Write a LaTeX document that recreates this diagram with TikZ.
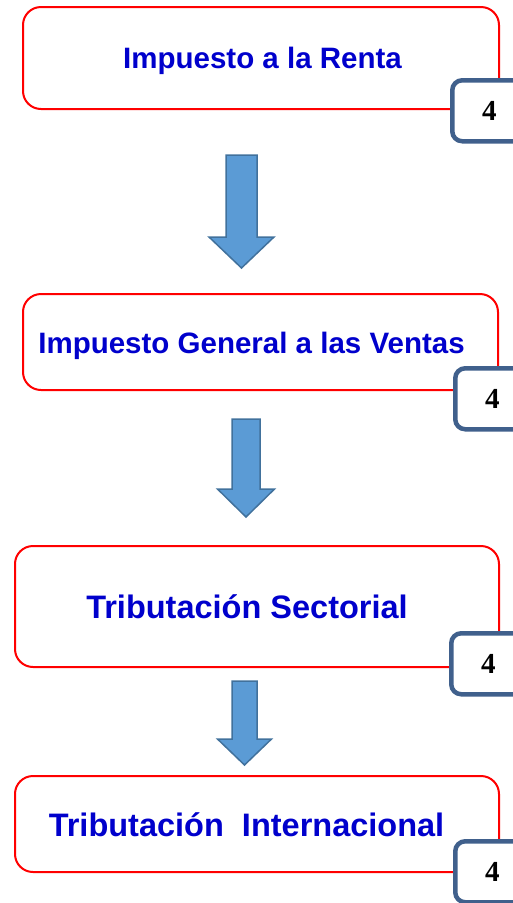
\documentclass[tikz,border=0pt]{standalone}
\usepackage{fontspec}
\newfontfamily\arial{Liberation Sans}
\newfontfamily\serifnum{Liberation Serif}
\usepackage{tikz}
\usetikzlibrary{positioning}
\definecolor{rojo}{RGB}{255,0,0}
\definecolor{azultexto}{RGB}{0,0,204}
\definecolor{azulflecha}{RGB}{91,155,213}
\definecolor{bordeflecha}{RGB}{65,113,156}
\definecolor{bordetag}{RGB}{64,96,140}
\tikzstyle{caja}=[
	draw=rojo,
	line width=2pt,
	rounded corners=18pt,
	inner sep=0pt
]
\tikzstyle{titulo}=[
	text=azultexto,
	anchor=base,
	inner sep=0pt
]
\tikzstyle{tag}=[
	draw=bordetag,
	line width=4.5pt,
	rounded corners=10pt,
	fill=white,
	minimum width=74pt,
	minimum height=61pt,
	anchor=north west,
	font=\serifnum\bfseries\fontsize{29}{29}\selectfont
]
\tikzstyle{flecha}=[
	draw=bordeflecha,
	fill=azulflecha,
	line width=1.5pt
]

\begin{document}
\begin{tikzpicture}[x=1pt,y=-1pt]
\clip (0,0) rectangle (513,903);
\node[caja, minimum width=476pt, minimum height=102pt] (b1) at (261,58) {};
\node[caja, minimum width=475pt, minimum height=96pt] (b2) at (260.5,342) {};
\node[caja, minimum width=484pt, minimum height=121pt] (b3) at (257,606.5) {};
\node[caja, minimum width=484pt, minimum height=96pt] (b4) at (257,824) {};

\node[titulo, font=\arial\bfseries\fontsize{29.5}{30}\selectfont] (t1) at (262.5,68) {Impuesto a la Renta};
\node[titulo, font=\arial\bfseries\fontsize{29.5}{30}\selectfont] (t2) at (251.5,353) {Impuesto General a las Ventas};
\node[titulo, font=\arial\bfseries\fontsize{32.5}{33}\selectfont] (t3) at (247,618) {Tributación Sectorial};
\node[titulo, font=\arial\bfseries\fontsize{32.5}{33}\selectfont] (t4) at (246.5,836) {Tributación\ \ Internacional};

\node[tag] (n1) at ([xshift=-50pt,yshift=32pt]b1.south east) {4};
\node[tag] (n2) at ([xshift=-46pt,yshift=25pt]b2.south east) {4};
\node[tag] (n3) at ([xshift=-51pt,yshift=37pt]b3.south east) {4};
\node[tag] (n4) at ([xshift=-47pt,yshift=34pt]b4.south east) {4};

\foreach \cx/\ytop/\ywing/\ytip/\sw/\hw in {241.5/155/237/268/15.5/32.5, 246/419/489/517/14/28.5, 244.5/681/739/765/12.5/27} {
    \draw[flecha] (\cx-\sw,\ytop) -- (\cx+\sw,\ytop) -- (\cx+\sw,\ywing) -- (\cx+\hw,\ywing)
        -- (\cx,\ytip) -- (\cx-\hw,\ywing) -- (\cx-\sw,\ywing) -- cycle;
}
\end{tikzpicture}
\end{document}
